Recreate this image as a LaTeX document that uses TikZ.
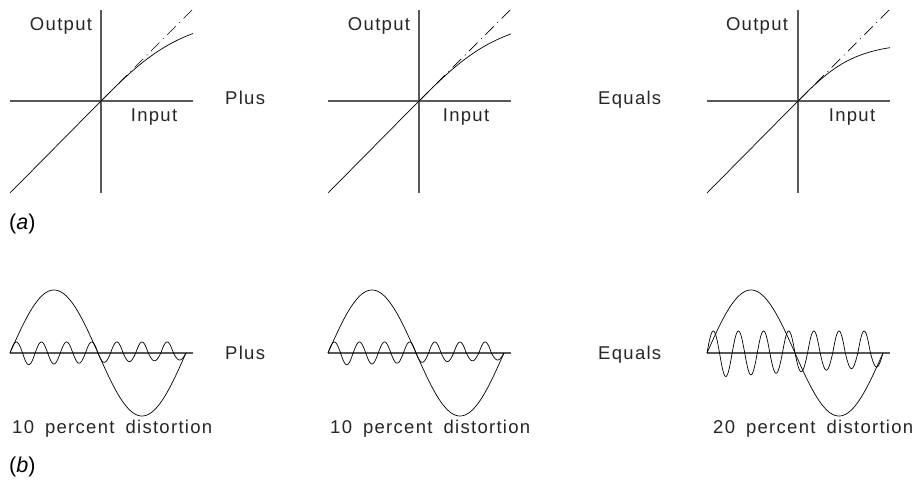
\documentclass[tikz,border=0pt]{standalone}
\usepackage{fontspec}
\setmainfont{Liberation Sans}
\newfontfamily\cadfont[LetterSpace=7]{Liberation Sans}
\begin{document}
\begin{tikzpicture}[x=1pt,y=-1pt,
  axis/.style={draw=black!65, line width=1.1pt},
  curve/.style={draw=black, line width=0.7pt},
  chain/.style={draw=black, line width=0.7pt, dash pattern=on 12pt off 5pt on 1pt off 5pt},
  lbl/.style={font=\cadfont\fontsize{18.5}{20}\selectfont, text=black!85, inner sep=0pt, anchor=base},
  lblw/.style={lbl, anchor=base west},
  tag/.style={font=\fontsize{21.5}{24}\selectfont, inner sep=0pt, anchor=west}]
\useasboundingbox (0,0) rectangle (918,495);

% (a) transfer characteristics
\foreach \xo/\a in {10/85, 328/84, 707/58} {
  \begin{scope}[shift={(\xo,0)}]
    \draw[axis] (91,10) -- (91,193);
    \draw[axis] (0,101) -- (183,101);
    \draw[curve] (0,193) -- (91,101);
    \draw[chain] (182,10) -- (91,101);
    \draw[curve] plot[domain=0:92, samples=40, smooth] ({91+\x},{101-\a*tanh(\x/\a)});
  \end{scope}
}
\node[lbl] (out1) at (61,31) {Output};
\node[lbl] (in1) at (154,121) {Input};
\node[lbl] (out2) at (379,31) {Output};
\node[lbl] (in2) at (466,121) {Input};
\node[lbl] (out3) at (757,31) {Output};
\node[lbl] (in3) at (852,121) {Input};
\node[lblw] (plusa) at (225,104) {Plus};
\node[lblw] (eqa) at (598,104) {Equals};
\node[tag] (taga) at (9,224) {(\textit{a})};

% (b) waveforms
\foreach \xo/\amp in {10/11, 328/11, 707/22} {
  \begin{scope}[shift={(\xo,0)}]
    \draw[axis] (0,353) -- (183,353);
    \draw[curve] plot[domain=0:176, samples=120, smooth] ({\x},{353-63*sin(\x*2.045455)});
    \draw[curve] plot[domain=0:176, samples=300, smooth]
      ({\x},{353-\amp*sin(\x*14.318182)-\amp*min(sin(\x*14.318182),0)*(0.12-0.5*\x/176)});
  \end{scope}
}
\node[lblw] (plusb) at (225,359) {Plus};
\node[lblw] (eqb) at (598,359) {Equals};
\node[lblw] (d1) at (12,433) {10\hspace{11pt}percent\hspace{11pt}distortion};
\node[lblw] (d2) at (330,433) {10\hspace{11pt}percent\hspace{11pt}distortion};
\node[lblw] (d3) at (713,433) {20\hspace{11pt}percent\hspace{11pt}distortion};
\node[tag] (tagb) at (9,467) {(\textit{b})};
\end{tikzpicture}
\end{document}
